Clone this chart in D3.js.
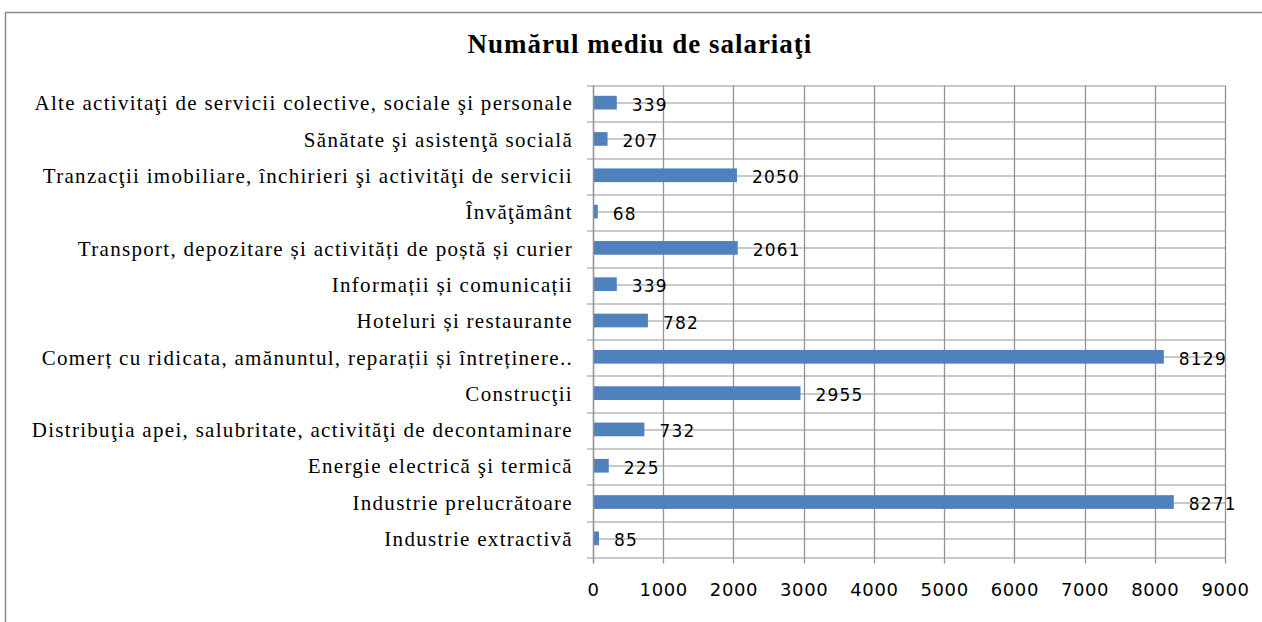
<!DOCTYPE html>
<html>
<head>
<meta charset="utf-8">
<script src="https://cdn.jsdelivr.net/npm/d3@7"></script>
<style>
body { margin:0; background:#fff; }
</style>
</head>
<body>
<div id="chart-area"></div>
<script>
var title = "Numărul mediu de salariaţi";
var categories = [
    "Alte activitaţi de servicii colective, sociale şi personale",
    "Sănătate şi asistenţă socială",
    "Tranzacţii imobiliare, închirieri şi activităţi de servicii",
    "Învăţământ",
    "Transport, depozitare și activități de poștă și curier",
    "Informații și comunicații ",
    "Hoteluri și restaurante",
    "Comerț cu ridicata, amănuntul, reparații și întreținere..",
    "Construcţii",
    "Distribuţia apei, salubritate, activităţi de decontaminare",
    "Energie electrică şi termică",
    "Industrie prelucrătoare",
    "Industrie extractivă"
];
var values = [339, 207, 2050, 68, 2061, 339, 782, 8129, 2955, 732, 225, 8271, 85];
var xTicks = [0, 1000, 2000, 3000, 4000, 5000, 6000, 7000, 8000, 9000];

var margin = {left:593, right:37, top:85.5, bottom:64.5};
var W = 1262, H = 622;
var width = W - margin.left - margin.right;
var height = H - margin.top - margin.bottom;

var svg = d3.select("#chart-area").append("svg")
    .attr("width", W)
    .attr("height", H);

// outer frame (only top and left edges are visible)
svg.append("line")
    .attr("x1", 5).attr("x2", W).attr("y1", 12.5).attr("y2", 12.5)
    .attr("stroke", "#8a8a8a").attr("stroke-width", 1.5);
svg.append("line")
    .attr("x1", 5.5).attr("x2", 5.5).attr("y1", 12).attr("y2", H)
    .attr("stroke", "#8a8a8a").attr("stroke-width", 1.5);

svg.append("text")
    .attr("x", 640)
    .attr("y", 53)
    .attr("text-anchor", "middle")
    .attr("font-family", "Liberation Serif, Times New Roman, serif")
    .attr("font-weight", "bold")
    .attr("font-size", "27px")
    .attr("letter-spacing", "1px")
    .text(title);

var g = svg.append("g")
    .attr("transform", "translate(" + margin.left + "," + margin.top + ")");

var x = d3.scaleLinear()
    .domain([0, 9000])
    .range([0, width]);
var y = d3.scaleBand()
    .domain(categories)
    .range([0, height]);

var gridColor = "#939393";

// vertical grid lines
g.selectAll(".vgrid")
    .data(xTicks)
    .enter().append("line")
    .attr("class", "vgrid")
    .attr("x1", (d) => Math.round(x(d)) + 0.5)
    .attr("x2", (d) => Math.round(x(d)) + 0.5)
    .attr("y1", 0)
    .attr("y2", height + 6)
    .attr("stroke", gridColor)
    .attr("stroke-width", 1.3);

// horizontal grid lines: band edges (with ticks) and band centres
var edges = categories.map((c) => y(c)).concat([height]);
g.selectAll(".hedge")
    .data(edges)
    .enter().append("line")
    .attr("class", "hedge")
    .attr("x1", -6)
    .attr("x2", width)
    .attr("y1", (d) => Math.round(d) + 0.5)
    .attr("y2", (d) => Math.round(d) + 0.5)
    .attr("stroke", gridColor)
    .attr("stroke-width", 1.2);
g.selectAll(".hmid")
    .data(categories)
    .enter().append("line")
    .attr("class", "hmid")
    .attr("x1", 0)
    .attr("x2", width)
    .attr("y1", (d) => Math.round(y(d) + y.bandwidth() / 2) - 0.5)
    .attr("y2", (d) => Math.round(y(d) + y.bandwidth() / 2) - 0.5)
    .attr("stroke", gridColor)
    .attr("stroke-width", 1.2);

// x tick labels
var xAxis = d3.axisBottom(x).tickValues(xTicks).tickFormat(d3.format("d")).tickSize(0).tickPadding(26);
var xg = g.append("g")
    .attr("transform", "translate(0," + height + ")")
    .call(xAxis);
xg.select(".domain").remove();
xg.selectAll("text")
    .attr("font-family", "DejaVu Sans, sans-serif")
    .attr("font-size", "18px")
    .attr("letter-spacing", "0.6px")
    .attr("fill", "#000");

// category labels
var yAxis = d3.axisLeft(y).tickSize(0).tickPadding(20);
var yg = g.append("g").call(yAxis);
yg.select(".domain").remove();
yg.selectAll("text")
    .attr("font-family", "Liberation Serif, Times New Roman, serif")
    .attr("font-size", "21px")
    .attr("letter-spacing", "1.3px")
    .attr("fill", "#000");

// bars
var barH = 13.7;
g.selectAll("rect")
    .data(values)
    .enter().append("rect")
    .attr("x", 0)
    .attr("y", (d, i) => y(categories[i]) + y.bandwidth() / 2 - barH / 2 - 1)
    .attr("width", (d) => x(d))
    .attr("height", barH)
    .attr("fill", "#4f81bd");

// axis line
g.append("line")
    .attr("x1", 0.5).attr("x2", 0.5)
    .attr("y1", 0).attr("y2", height + 6)
    .attr("stroke", gridColor).attr("stroke-width", 1.3);

// value labels
g.selectAll(".val")
    .data(values)
    .enter().append("text")
    .attr("class", "val")
    .attr("x", (d) => x(d) + 15)
    .attr("y", (d, i) => y(categories[i]) + y.bandwidth() / 2 + 7)
    .attr("font-family", "DejaVu Sans, sans-serif")
    .attr("font-size", "17px")
    .attr("letter-spacing", "1.2px")
    .attr("fill", "#000")
    .text((d) => d);
</script>
</body>
</html>
